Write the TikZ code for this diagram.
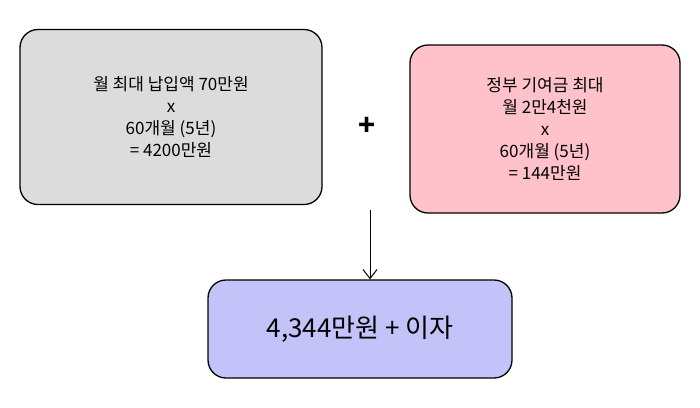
\documentclass[tikz,border=0pt]{standalone}
\usepackage{fontspec}
\usetikzlibrary{arrows.meta}
\newfontfamily\kr{Noto Sans CJK KR}
\definecolor{g1}{HTML}{DCDCDC}
\definecolor{p1}{HTML}{FFC2CA}
\definecolor{b1}{HTML}{C3C3FA}
\begin{document}
\begin{tikzpicture}[x=1pt,y=-1pt,
  box/.style={draw=black,line width=1.3pt,rounded corners=18pt,align=center,font=\kr\fontsize{17}{22}\selectfont}]
\useasboundingbox (0,0) rectangle (700,407);
\node[box,fill=g1,minimum width=302pt,minimum height=175pt] (a) at (171,117) {월 최대 납입액 70만원\\x\\60개월 (5년)\\= 4200만원};
\node[box,fill=p1,minimum width=270pt,minimum height=168pt] (b) at (545,129) {정부 기여금 최대\\월 2만4천원\\x\\60개월 (5년)\\= 144만원};
\node[box,fill=b1,minimum width=304pt,minimum height=98pt,font=\kr\fontsize{26}{30}\selectfont] (c) at (360,329) {4,344만원 + 이자};
\node[font=\kr\bfseries\fontsize{28}{30}\selectfont] (plus) at (367,126) {+};
\coordinate (t) at (370,210);
\draw[line width=1pt,-{Straight Barb[length=9pt,width=14pt]}] (t) -- (c.north -| t);
\end{tikzpicture}
\end{document}
